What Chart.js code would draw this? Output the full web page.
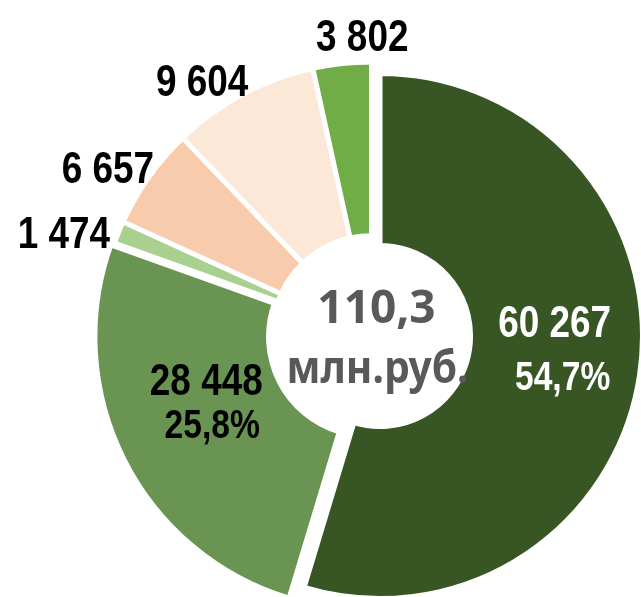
<!DOCTYPE html>
<html>
<head>
<meta charset="utf-8">
<script src="https://cdn.jsdelivr.net/npm/chart.js@4.4.1/dist/chart.umd.min.js"></script>
<style>
  html, body { margin: 0; padding: 0; background: #fff; }
  #wrap { position: relative; width: 641px; height: 597px; overflow: hidden; }
  #wrap canvas { position: absolute; left: 0; top: 0; }
</style>
</head>
<body>
<div id="wrap">
  <canvas id="ring" width="641" height="597"></canvas>
  <canvas id="slice" width="641" height="597"></canvas>
</div>
<script>
"use strict";

// data
const values = [60267, 28448, 1474, 6657, 9604, 3802];
const colors = ["#375623", "#6A9452", "#A9D08E", "#F8CBAD", "#FCE8D6", "#70AD47"];
const showPercent = [true, true, false, false, false, false];
const totalUnit = "млн.руб.";

const BORDER = 5;
const CLEAR = "rgba(0,0,0,0)";
const total = values.reduce((a, b) => a + b, 0);

const fmtNum = (v) => String(v).replace(/\B(?=(\d{3})+(?!\d))/g, " ");
const fmtPct = (v) => (v / total * 100).toFixed(1).replace(".", ",") + "%";
const fmtTotal = (v) => (v / 1000).toFixed(1).replace(".", ",");

// label nudges (px) - outside ones from the outer edge, inside ones from the slice middle
const outsideNudge = { 2: [-57, 15], 3: [-43, 5], 4: [-42, 0], 5: [20, -15] };
const insideNudge = { 0: [[0, -25], [8, 28]], 1: [[1, -24], [7, 19]] };

function polar(el, r) {
  const mid = (el.startAngle + el.endAngle) / 2;
  return { x: el.x + Math.cos(mid) * r, y: el.y + Math.sin(mid) * r };
}

// no narrow font here, so squeeze Liberation Sans Bold like Arial Narrow
function narrowText(ctx, text, x, y, size) {
  ctx.save();
  ctx.translate(x, y);
  ctx.scale(0.82, 1);
  ctx.font = "bold " + size + 'px "Liberation Sans", Arial, sans-serif';
  ctx.fillText(text, 0, 0);
  ctx.restore();
}

const baseOptions = {
  responsive: false,
  animation: false,
  events: [],
  plugins: { legend: { display: false }, tooltip: { enabled: false } },
};

// all slices except the big one
const ringChart = new Chart(document.getElementById("ring"), {
  type: "doughnut",
  data: {
    datasets: [{
      data: values,
      backgroundColor: colors.map((c, i) => (i === 0 ? CLEAR : c)),
      borderColor: colors.map((c, i) => (i === 0 ? CLEAR : "#fff")),
      borderWidth: BORDER,
      offset: [0, 16, 0, 0, 0, 0],
      clip: false,
    }],
  },
  options: Object.assign({}, baseOptions, {
    radius: 273,
    cutout: "36.4%",
    layout: { padding: { left: 102, top: 73, right: 0, bottom: 0 } },
  }),
});

// labels
const labelPlugin = {
  id: "labels",
  afterDraw(chart) {
    const ctx = chart.ctx;
    const ringArcs = ringChart.getDatasetMeta(0).data;
    const bigArc = chart.getDatasetMeta(0).data[0];
    const arcs = ringArcs.map((a, i) => (i === 0 ? bigArc : a));

    ctx.save();
    ctx.textAlign = "center";
    ctx.textBaseline = "alphabetic";

    arcs.forEach((el, i) => {
      if (outsideNudge[i]) {
        const p = polar(el, el.outerRadius - BORDER / 2);
        ctx.fillStyle = "#000";
        narrowText(ctx, fmtNum(values[i]), p.x + outsideNudge[i][0], p.y + outsideNudge[i][1], 45);
      }
      if (insideNudge[i]) {
        const p = polar(el, (el.innerRadius + el.outerRadius) / 2);
        const n = insideNudge[i];
        ctx.fillStyle = i === 0 ? "#fff" : "#000";
        narrowText(ctx, fmtNum(values[i]), p.x + n[0][0], p.y + n[0][1], 45);
        if (showPercent[i]) {
          narrowText(ctx, fmtPct(values[i]), p.x + n[1][0], p.y + n[1][1], 41);
        }
      }
    });

    // centre
    const c = ringArcs[2];
    ctx.fillStyle = "#595959";
    ctx.font = 'bold 46px "Noto Sans", "Open Sans", sans-serif';
    ctx.fillText(fmtTotal(total), c.x + 5, c.y - 12);
    ctx.font = 'bold 45px "Noto Sans", "Open Sans", sans-serif';
    ctx.fillText(totalUnit, c.x + 6, c.y + 48, 182);
    ctx.restore();
  },
};

// the pulled out slice
const sliceChart = new Chart(document.getElementById("slice"), {
  type: "doughnut",
  data: {
    datasets: [{
      data: values,
      backgroundColor: colors.map((c, i) => (i === 0 ? c : CLEAR)),
      borderColor: colors.map((c, i) => (i === 0 ? "#fff" : CLEAR)),
      borderWidth: BORDER,
      clip: false,
    }],
  },
  options: Object.assign({}, baseOptions, {
    radius: 262.5,
    cutout: "34.5%",
    layout: { padding: { left: 119, top: 75, right: 0, bottom: 0 } },
  }),
  plugins: [labelPlugin],
});
</script>
</body>
</html>
